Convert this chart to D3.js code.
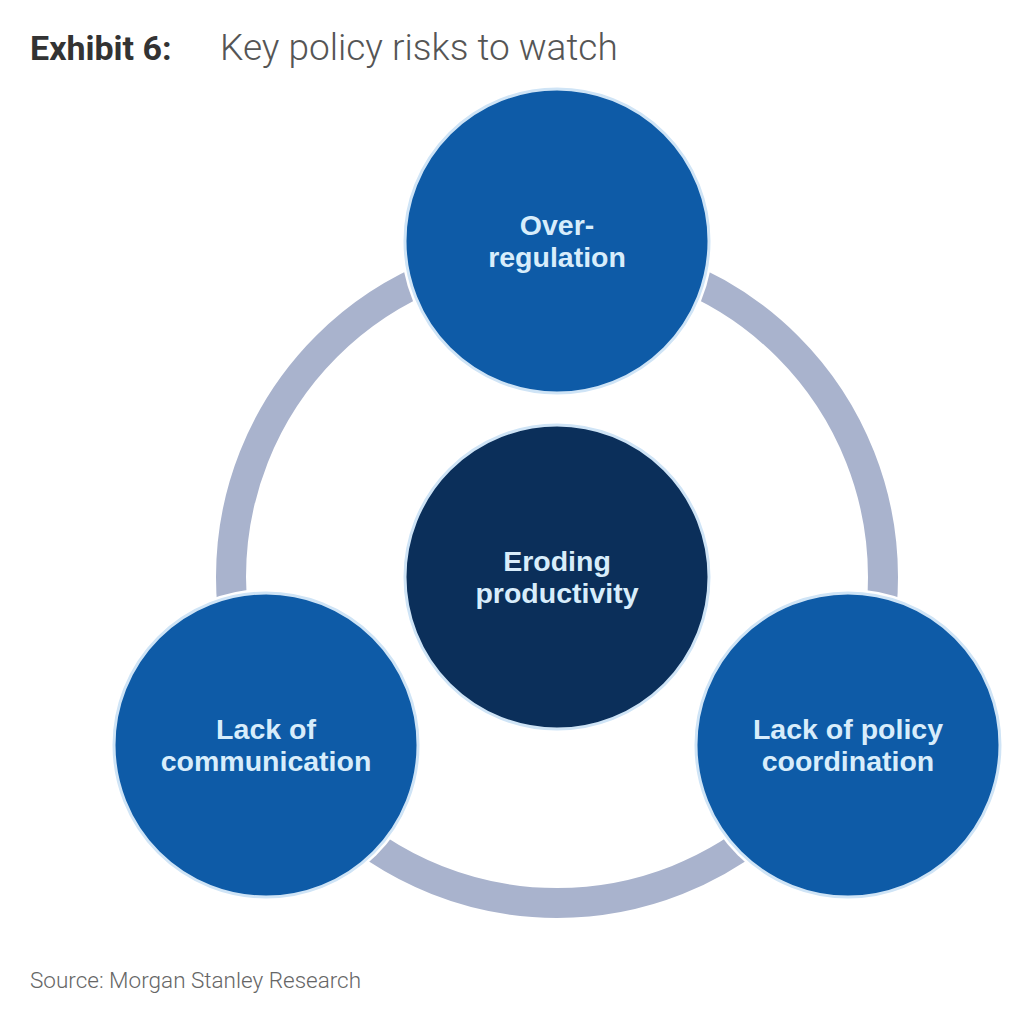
<!DOCTYPE html>
<html>
<head>
<meta charset="utf-8">
<script src="https://cdn.jsdelivr.net/npm/d3@7/dist/d3.min.js"></script>
<style>
  html, body { margin: 0; padding: 0; background: #ffffff; }
  svg { display: block; }
</style>
</head>
<body>
<svg id="chart" width="1028" height="1029"></svg>
<script>
// ---- data ----
const titleBold = "Exhibit 6:";
const titleText = "Key policy risks to watch";
const sourceText = "Source: Morgan Stanley Research";
const centerLabel = ["Eroding", "productivity"];
const outerLabels = [
  ["Over-", "regulation"],
  ["Lack of policy", "coordination"],
  ["Lack of", "communication"]
];
const outerAngles = [-90, 30, 150]; // degrees, clockwise from +x

// ---- layout ----
const svg = d3.select("#chart");
const cx = 557, cy = 577;
const nodeR = 152;
const orbit = d3.scaleLinear().domain([0, 1]).range([0, 336]);
const ringR = 326;
const angle = d3.scaleLinear().domain([0, 360]).range([0, 2 * Math.PI]);

const colors = { blue: "#0e5ba7", navy: "#0b2f5a", ring: "#a9b3cd", halo: "#cfe4f6", label: "#d8edfb" };

// title
svg.append("text").attr("x", 30).attr("y", 60).text(titleBold)
  .attr("font-family", "Roboto").attr("font-weight", 700).attr("font-size", 34).attr("fill", "#333333");
svg.append("text").attr("x", 220).attr("y", 60).text(titleText)
  .attr("font-family", "Roboto").attr("font-weight", 300).attr("font-size", 37).attr("fill", "#555555");

// source
svg.append("text").attr("x", 30).attr("y", 988).text(sourceText)
  .attr("font-family", "Roboto").attr("font-weight", 300).attr("font-size", 22.5).attr("fill", "#666666");

const g = svg.append("g").attr("transform", `translate(${cx},${cy})`);

// ring
g.append("circle").attr("r", ringR).attr("fill", "none")
  .attr("stroke", colors.ring).attr("stroke-width", 30);

// nodes
const nodes = [{ label: centerLabel, x: 0, y: 0, fill: colors.navy }]
  .concat(outerLabels.map((l, i) => ({
    label: l,
    x: orbit(1) * Math.cos(angle(outerAngles[i])),
    y: orbit(1) * Math.sin(angle(outerAngles[i])),
    fill: colors.blue
  })));

const ng = g.selectAll("g.node").data(nodes).join("g")
  .attr("class", "node")
  .attr("transform", d => `translate(${d.x},${d.y})`);

ng.append("circle").attr("r", nodeR + 4).attr("fill", "#ffffff");
ng.append("circle").attr("r", nodeR).attr("fill", d => d.fill)
  .attr("stroke", colors.halo).attr("stroke-width", 3);

const lineH = 32;
ng.selectAll("text.lbl")
  .data(d => d.label.map((t, i) => ({ t, i, n: d.label.length })))
  .join("text")
  .attr("class", "lbl")
  .attr("text-anchor", "middle")
  .attr("font-family", "Liberation Sans")
  .attr("font-weight", 700)
  .attr("font-size", 28.5)
  .attr("fill", colors.label)
  .attr("x", 0)
  .attr("y", d => (d.i - (d.n - 1) / 2) * lineH + 10)
  .text(d => d.t);
</script>
</body>
</html>
